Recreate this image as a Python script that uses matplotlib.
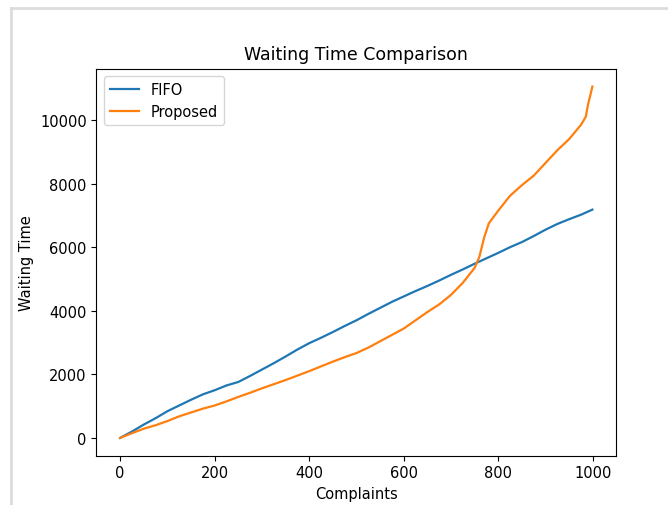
import matplotlib
matplotlib.use("Agg")
import matplotlib.pyplot as plt
from matplotlib.lines import Line2D

fifo_x = [0, 25, 50, 75, 100, 125, 150, 175, 200, 225, 250, 275, 300, 325, 350, 375,
          400, 425, 450, 475, 500, 525, 550, 575, 600, 625, 650, 675, 700, 725, 750,
          775, 800, 825, 850, 875, 900, 925, 950, 975, 999]
fifo_y = [0, 200, 420, 620, 840, 1020, 1200, 1370, 1500, 1650, 1760, 1950, 2150, 2350,
          2560, 2780, 2980, 3150, 3330, 3520, 3700, 3900, 4090, 4280, 4450, 4620, 4780,
          4950, 5130, 5300, 5480, 5650, 5820, 6000, 6160, 6350, 6550, 6730, 6880, 7020, 7180]

prop_x = [0, 25, 50, 75, 100, 125, 150, 175, 200, 225, 250, 275, 300, 325, 350, 375,
          400, 425, 450, 475, 500, 525, 550, 575, 600, 625, 650, 675, 700, 725, 750,
          760, 770, 780, 790, 800, 825, 850, 875, 900, 925, 950, 975, 985, 990, 995, 999]
prop_y = [0, 150, 290, 400, 530, 680, 800, 920, 1020, 1150, 1290, 1420, 1560, 1690,
          1820, 1960, 2100, 2250, 2400, 2540, 2670, 2840, 3040, 3240, 3440, 3700, 3960,
          4200, 4500, 4880, 5350, 5700, 6300, 6750, 6950, 7150, 7620, 7950, 8250, 8650,
          9050, 9400, 9850, 10100, 10500, 10800, 11050]

W, H = 668, 506
fig = plt.figure(figsize=(W / 100, H / 100), dpi=100)
ax = fig.add_axes([96.5 / W, 1 - 456.5 / H, (616 - 96.5) / W, (456.5 - 70) / H])

ax.plot(fifo_x, fifo_y, color="#1f77b4", lw=1.6, label="FIFO")
ax.plot(prop_x, prop_y, color="#ff7f0e", lw=1.6, label="Proposed")

ax.set_title("Waiting Time Comparison", fontsize=12.5, pad=7)
ax.set_xlabel("Complaints", fontsize=10.5)
ax.set_ylabel("Waiting Time", fontsize=10.5)
ax.tick_params(labelsize=10.5)
ax.legend(loc="upper left", fontsize=10.5)

# notebook output border
fig.add_artist(Line2D([11 / W, 11 / W], [0, 1 - 9 / H], transform=fig.transFigure,
                      color="#dcdcdc", lw=2))
fig.add_artist(Line2D([11 / W, 1], [1 - 9 / H, 1 - 9 / H], transform=fig.transFigure,
                      color="#dcdcdc", lw=2))

fig.savefig("out.png", dpi=100)
